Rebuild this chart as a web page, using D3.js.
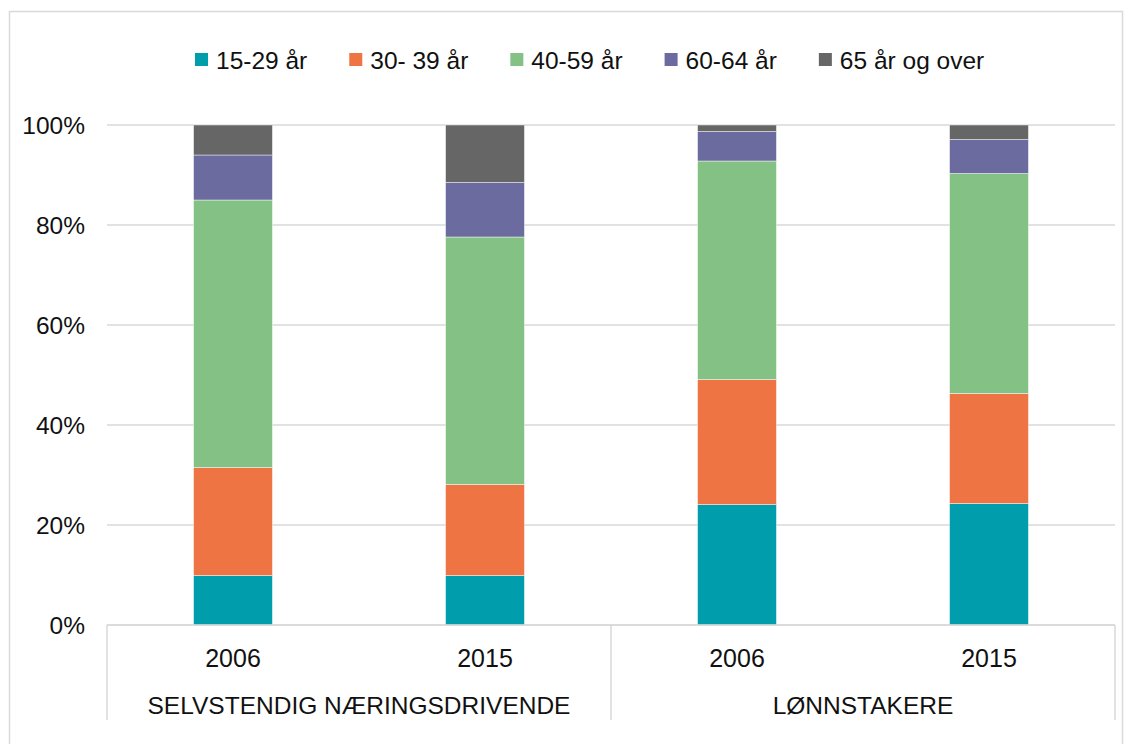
<!DOCTYPE html>
<html><head><meta charset="utf-8">
<script src="https://cdn.jsdelivr.net/npm/d3@7"></script>
<style>body{margin:0;background:#fff}svg{display:block}text{font-family:"Liberation Sans",Arial,sans-serif;fill:#111}</style>
</head><body><svg id="c" width="1132" height="744"></svg>
<script>
const groups = ["SELVSTENDIG NÆRINGSDRIVENDE", "LØNNSTAKERE"];
const years = ["2006", "2015", "2006", "2015"];
const groupOf = [0, 0, 1, 1];
const seriesNames = ["15-29 år", "30- 39 år", "40-59 år", "60-64 år", "65 år og over"];
const colors = ["#009dad", "#ef7444", "#84c184", "#6b6b9f", "#666666"];
const s1529 = [9.9, 9.9, 24.1, 24.3];
const s3039 = [21.6, 18.2, 25.0, 22.0];
const s4059 = [53.5, 49.5, 43.7, 44.0];
const s6064 = [9.0, 10.9, 5.9, 6.8];
const s65 = [6.0, 11.5, 1.3, 2.9];
const yTicks = [0, 20, 40, 60, 80, 100];

const series = [s1529, s3039, s4059, s6064, s65];
const rows = years.map((y, i) => {
  const r = {idx: i};
  seriesNames.forEach((n, k) => r[n] = series[k][i]);
  return r;
});
const stacked = d3.stack().keys(seriesNames)(rows);

const FS = 24.5;
const svg = d3.select("#c");
const L = 107, R = 1115, T = 125, B = 625;
svg.append("rect").attr("x", 9.5).attr("y", 11.5).attr("width", 1113).attr("height", 740)
  .attr("fill", "none").attr("stroke", "#d9d9d9").attr("stroke-width", 1.5);

const x = d3.scaleBand().domain(d3.range(years.length)).range([L, R]).paddingInner(0.687).paddingOuter(0.3435);
const y = d3.scaleLinear().domain([0, 100]).range([B, T]);

// gridlines
svg.append("g").selectAll("line").data(yTicks).join("line")
  .attr("x1", L).attr("x2", R).attr("y1", d => y(d)).attr("y2", d => y(d))
  .attr("stroke", "#d9d9d9").attr("stroke-width", 1.5);

// y axis labels
svg.append("g").selectAll("text").data(yTicks).join("text")
  .attr("x", 85).attr("y", d => y(d)).attr("dy", "0.35em").attr("text-anchor", "end")
  .attr("font-size", FS).text(d => d + "%");

// bars
svg.append("g").selectAll("g").data(stacked).join("g")
  .attr("fill", (d, k) => colors[k])
  .selectAll("rect").data(d => d).join("rect")
  .attr("x", d => x(d.data.idx)).attr("width", x.bandwidth())
  .attr("y", d => y(d[1])).attr("height", d => y(d[0]) - y(d[1]))
  .attr("stroke", "rgba(255,255,255,0.6)").attr("stroke-width", 0.75);

// category axis
const ax = svg.append("g");
ax.append("line").attr("x1", L).attr("x2", R).attr("y1", B).attr("y2", B).attr("stroke", "#d9d9d9").attr("stroke-width", 1.5);
const step = x.step();
const groupBounds = groups.map((g, gi) => {
  const idxs = d3.range(years.length).filter(i => groupOf[i] === gi);
  return [L + step * d3.min(idxs), L + step * (d3.max(idxs) + 1)];
});
const seps = [L, ...groupBounds.map(b => b[1])];
ax.selectAll("line.sep").data(seps).join("line").attr("class", "sep")
  .attr("x1", d => d).attr("x2", d => d).attr("y1", B).attr("y2", 720)
  .attr("stroke", "#d9d9d9").attr("stroke-width", 1.5);
ax.selectAll("text.yr").data(years).join("text").attr("class", "yr")
  .attr("x", (d, i) => x(i) + x.bandwidth() / 2).attr("y", 658).attr("dy", "0.35em")
  .attr("text-anchor", "middle").attr("font-size", 25).text(d => d);
ax.selectAll("text.grp").data(groups).join("text").attr("class", "grp")
  .attr("x", (d, i) => (groupBounds[i][0] + groupBounds[i][1]) / 2).attr("y", 705).attr("dy", "0.35em")
  .attr("text-anchor", "middle").attr("font-size", FS).text(d => d);

// legend
const lg = svg.append("g");
let lx = 195;
seriesNames.forEach((n, k) => {
  lg.append("rect").attr("x", lx).attr("y", 53).attr("width", 13).attr("height", 13).attr("fill", colors[k]);
  const t = lg.append("text").attr("x", lx + 21).attr("y", 60).attr("dy", "0.35em").attr("font-size", FS).text(n);
  lx += 21 + t.node().getComputedTextLength() + 42;
});
</script></body></html>
